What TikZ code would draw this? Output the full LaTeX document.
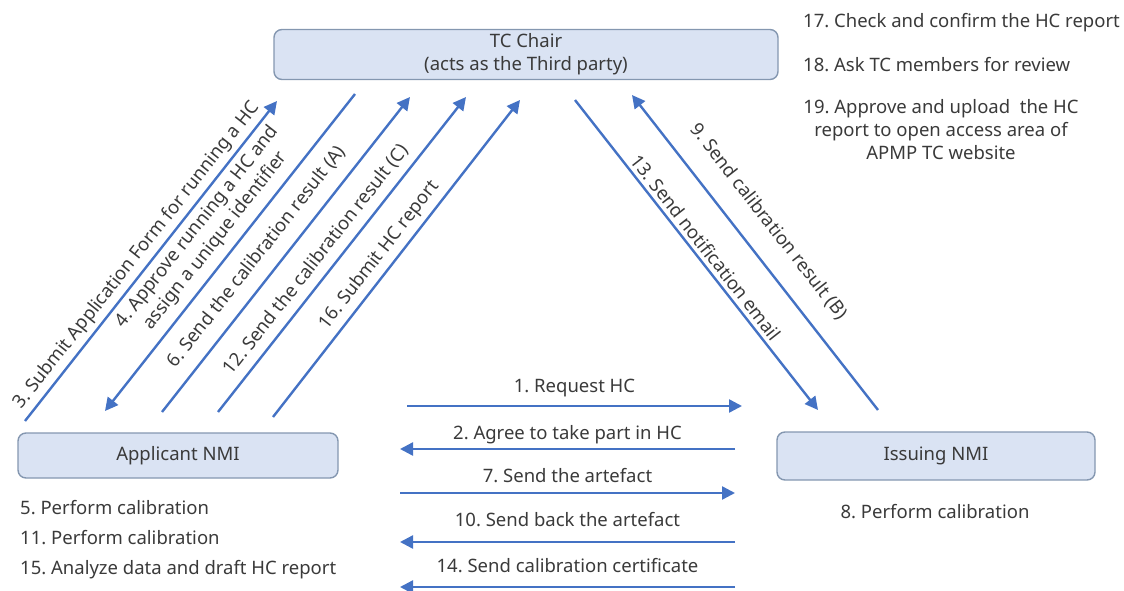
\documentclass[tikz,border=0pt]{standalone}
\usepackage{fontspec}
\setmainfont{Noto Sans}
\usetikzlibrary{arrows.meta}

\definecolor{boxfill}{HTML}{DAE3F3}
\definecolor{boxline}{HTML}{8497B0}
\definecolor{flowblue}{HTML}{4472C4}
\definecolor{textgray}{HTML}{3A3A3A}

\tikzset{
	party/.style={draw=boxline, fill=boxfill, line width=1.4pt, rounded corners=8pt,
		text=textgray, align=center},
	flow/.style={draw=flowblue, line width=2.4pt, -{Triangle[length=13pt,width=13pt]}},
	flowback/.style={draw=flowblue, line width=2.4pt, {Triangle[length=13pt,width=13pt]}-},
	msg/.style={text=textgray, inner sep=4pt, align=center},
	note/.style={text=textgray, inner sep=0pt, anchor=west},
}

\begin{document}
\frenchspacing
\begin{tikzpicture}[x=1pt, y=-1pt, font=\fontsize{18.5}{23}\selectfont]
			\useasboundingbox (0,0) rectangle (1124,591);
			
			% the three parties
			\node[party, minimum width=504pt, minimum height=50pt] (tcchair) at (526,54.5) {TC Chair\\(acts as the Third party)};
			\node[party, minimum width=320pt, minimum height=45pt] (applicant) at (178,455.5) {Applicant NMI};
			\node[party, minimum width=318pt, minimum height=48pt] (issuing) at (936,456) {Issuing NMI};
			
			% end points of the connectors
			\coordinate (s3b) at (25,421);   \coordinate (s3t) at (277,101);
			\coordinate (s4b) at (105,411);  \coordinate (s4t) at (355,94);
			\coordinate (s6b) at (162,412);  \coordinate (s6t) at (410,97);
			\coordinate (s12b) at (218,412); \coordinate (s12t) at (466,97);
			\coordinate (s16b) at (273,417); \coordinate (s16t) at (520,100);
			\coordinate (s13t) at (575,100); \coordinate (s13b) at (818,410);
			\coordinate (s9t) at (632,95);   \coordinate (s9b) at (878,410);
			\coordinate (m1l) at (407,406);  \coordinate (m1r) at (742,406);
			\coordinate (m2l) at (400,449);  \coordinate (m2r) at (735,449);
			\coordinate (m7l) at (400,493);  \coordinate (m7r) at (735,493);
			\coordinate (m10l) at (400,542); \coordinate (m10r) at (735,542);
			\coordinate (m14l) at (400,587); \coordinate (m14r) at (735,587);
			
			% applicant <-> TC chair
			\draw[flow] (s3b) -- node[msg, pos=0.49, sloped, above] (l3) {3. Submit Application Form for running a HC} (s3t);
			\draw[flowback] (s4b) -- node[msg, midway, sloped, above=4pt] (l4) {4. Approve running a HC and\\assign a unique identifier} (s4t);
			\draw[flow] (s6b) -- node[msg, pos=0.45, sloped, above=8pt] (l6) {6. Send the calibration result (A)} (s6t);
			\draw[flow] (s12b) -- node[msg, pos=0.45, sloped, above=3.5pt] (l12) {12. Send the calibration result (C)} (s12t);
			\draw[flow] (s16b) -- node[msg, pos=0.48, sloped, above=1pt] (l16) {16. Submit HC report} (s16t);
			
			% TC chair <-> issuing
			\draw[flow] (s13t) -- node[msg, midway, sloped, above] (l13) {13. Send notification email} (s13b);
			\draw[flowback] (s9t) -- node[msg, pos=0.46, sloped, above=16pt] (l9) {9. Send calibration result (B)} (s9b);
			
			% applicant <-> issuing
			\draw[flow] (m1l) -- node[msg, midway, above=4pt] (l1) {1. Request HC} (m1r);
			\draw[flow] (m2r) -- node[msg, midway, above] (l2) {2. Agree to take part in HC} (m2l);
			\draw[flow] (m7l) -- node[msg, midway, above=5pt] (l7) {7. Send the artefact} (m7r);
			\draw[flow] (m10r) -- node[msg, midway, above=10pt] (l10) {10. Send back the artefact} (m10l);
			\draw[flow] (m14r) -- node[msg, midway, above=9pt] (l14) {14. Send calibration certificate} (m14l);
			
			% what each party does
			\node[note] (n17) at (803,23) {17. Check and confirm the HC report};
			\node[note] (n18) at (803,65) {18. Ask TC members for review};
			\node[msg, inner sep=0pt] (n19) at (941,130) {19. Approve and upload\ \ the HC\\report to open access area of\\APMP TC website};
			\node[note] (n5) at (20,508) {5. Perform calibration};
			\node[note] (n11) at (20,538) {11. Perform calibration};
			\node[note] (n15) at (20,569.5) {15. Analyze data and draft HC report};
			\node[msg, inner sep=0pt] (n8) at (935,512) {8. Perform calibration};
			
		\end{tikzpicture}
\end{document}
